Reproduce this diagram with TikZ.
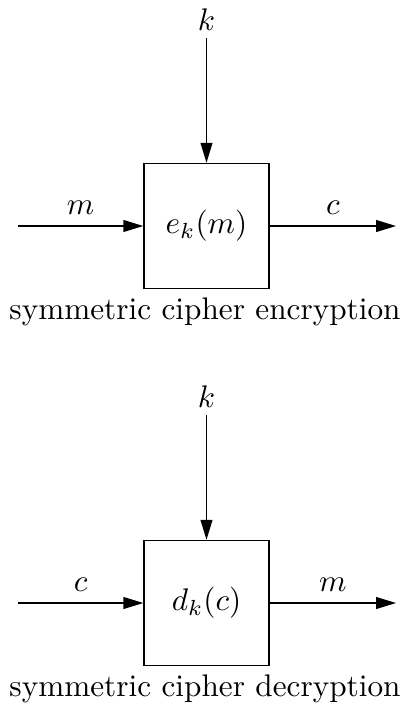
\documentclass[tikz,border=0pt]{standalone}
\usetikzlibrary{arrows.meta}
\tikzset{
  cipherbox/.style={draw, line width=0.45pt, minimum size=40pt, inner sep=0pt},
  flow/.style={line width=0.45pt, -{Triangle[length=6.4pt,width=3.8pt]}},
  keylabel/.style={anchor=base, inner sep=2.5pt},
  caption/.style={anchor=base, inner sep=0pt}
}
\begin{document}
\begin{tikzpicture}[x=0.32pt, y=-0.32pt]
  \useasboundingbox (0,0) rectangle (403,709);

  % encryption
  \node[cipherbox] (enc) at (206.5,226) {$e_k(m)$};
  \node[keylabel] (kenc) at (206.5,30) {$k$};
  \coordinate (encin) at (18,226);
  \coordinate (encout) at (396,226);
  \draw[flow] (kenc.south) -- (enc.north);
  \draw[flow] (encin) -- node[above] {$m$} (enc.west);
  \draw[flow] (enc.east) -- node[above] {$c$} (encout);
  \node[caption] (capenc) at (205,319) {symmetric cipher encryption};

  % decryption
  \node[cipherbox] (dec) at (206.5,603) {$d_k(c)$};
  \node[keylabel] (kdec) at (206.5,407) {$k$};
  \coordinate (decin) at (18,603);
  \coordinate (decout) at (396,603);
  \draw[flow] (kdec.south) -- (dec.north);
  \draw[flow] (decin) -- node[above] {$c$} (dec.west);
  \draw[flow] (dec.east) -- node[above] {$m$} (decout);
  \node[caption] (capdec) at (205,696) {symmetric cipher decryption};
\end{tikzpicture}
\end{document}
